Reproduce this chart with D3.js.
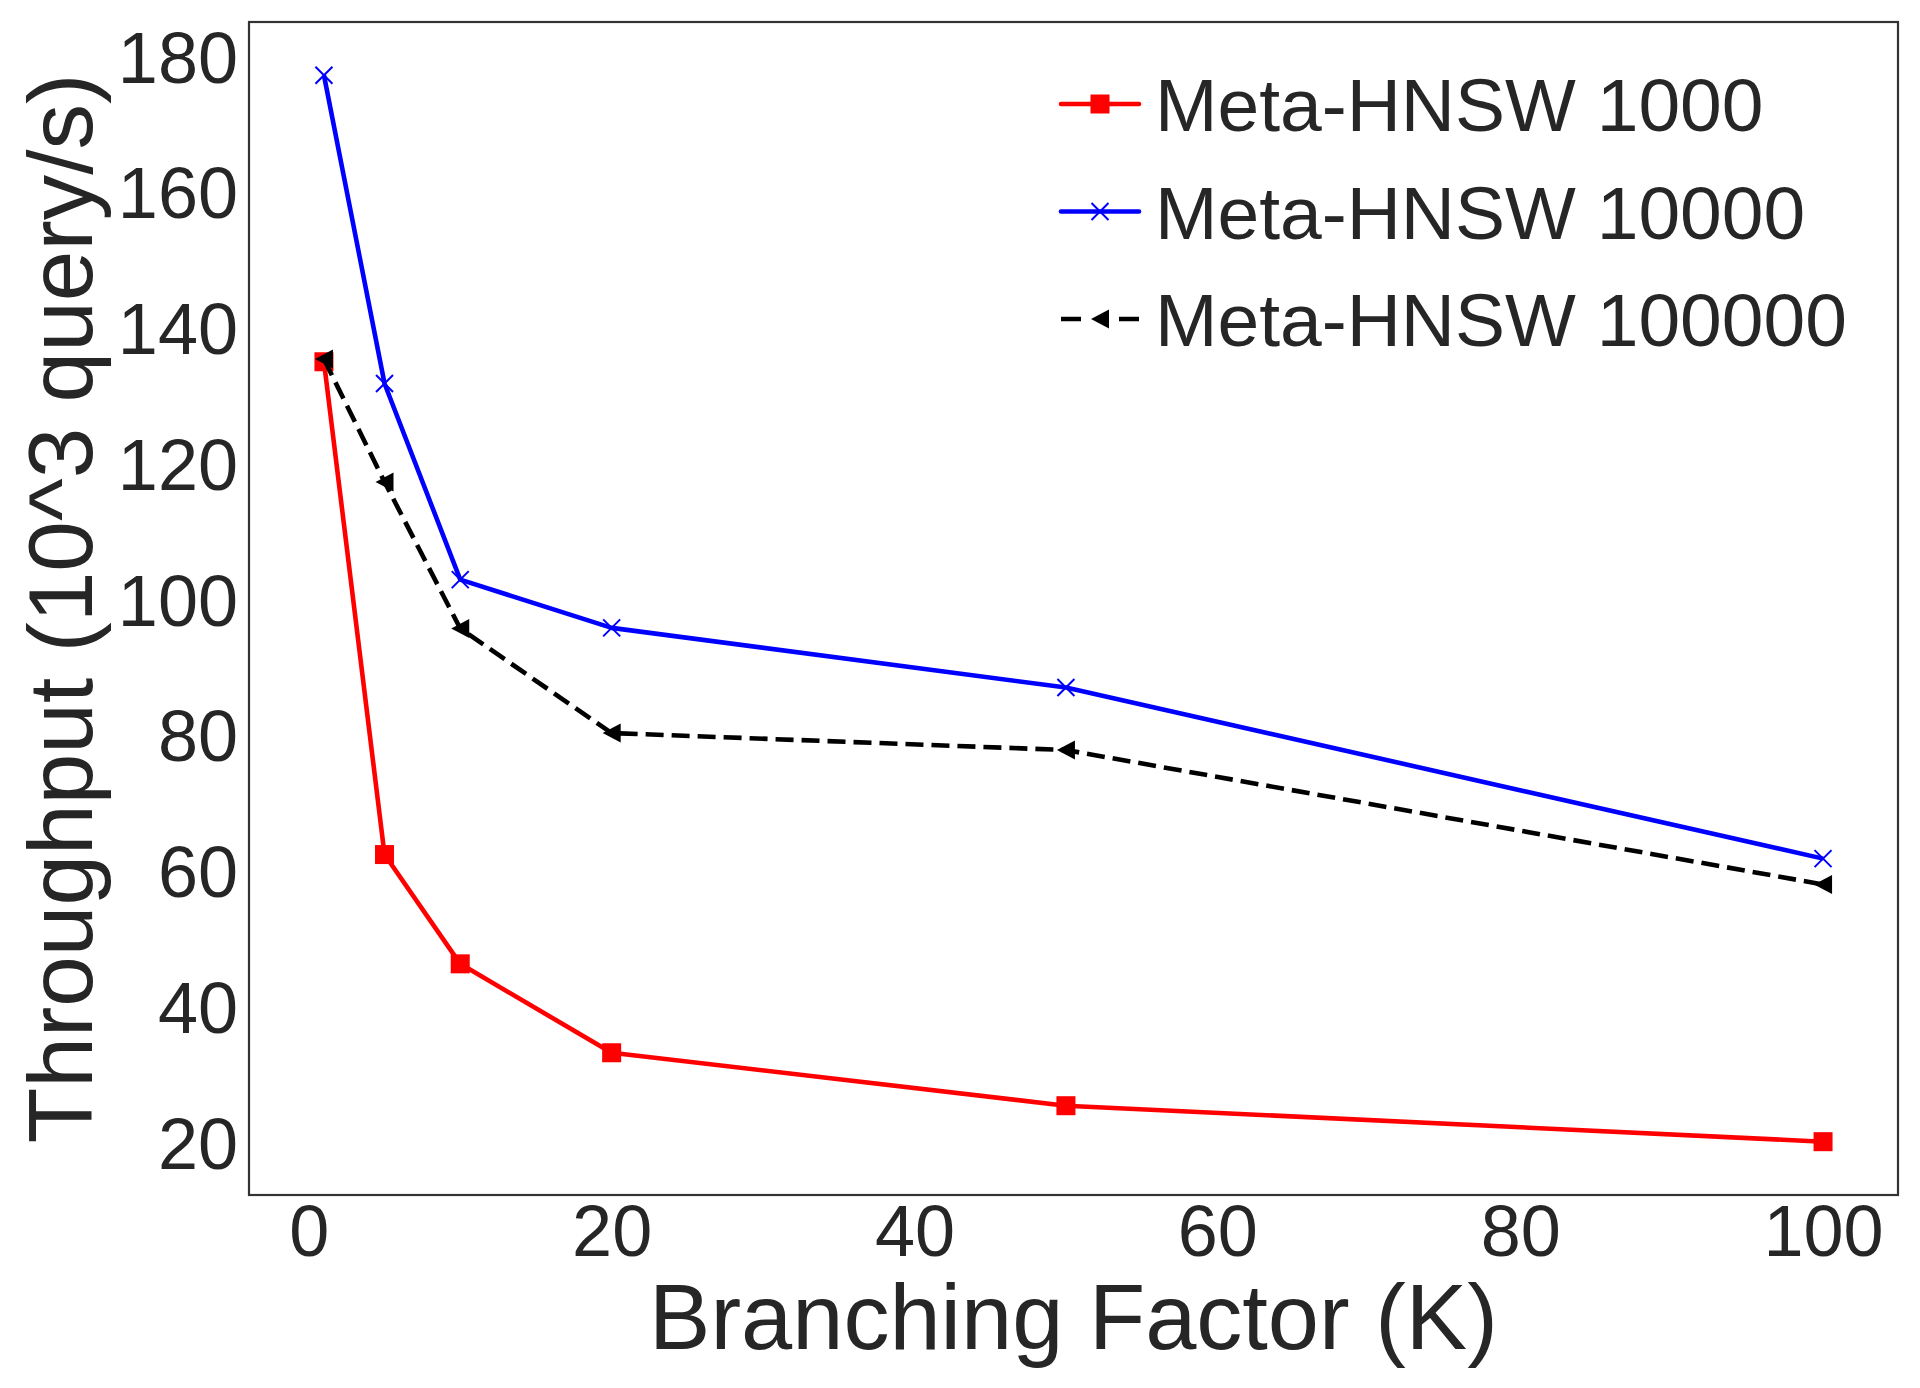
<!DOCTYPE html>
<html>
<head>
<meta charset="utf-8">
<script src="https://cdn.jsdelivr.net/npm/d3@7"></script>
<style>
  html, body { margin: 0; padding: 0; background: #fff; }
  svg { display: block; }
</style>
</head>
<body>
<svg id="chart" width="1920" height="1388"></svg>
<script>
const branching = [1, 5, 10, 20, 50, 100];
const hnsw1000 = [135.4, 62.8, 46.7, 33.6, 25.8, 20.5];
const hnsw10000 = [177.6, 132.2, 103.3, 96.2, 87.4, 62.2];
const hnsw100000 = [135.8, 117.7, 96.1, 80.7, 78.2, 58.4];
const seriesNames = ["Meta-HNSW 1000", "Meta-HNSW 10000", "Meta-HNSW 100000"];
const xTicks = [0, 20, 40, 60, 80, 100];
const yTicks = [20, 40, 60, 80, 100, 120, 140, 160, 180];
const xLabel = "Branching Factor (K)";
const yLabel = "Throughput (10^3 query/s)";

const series = [
  { name: seriesNames[0], values: hnsw1000, color: "#ff0000", marker: "square", dash: null },
  { name: seriesNames[1], values: hnsw10000, color: "#0000ff", marker: "x", dash: null },
  { name: seriesNames[2], values: hnsw100000, color: "#000000", marker: "triLeft", dash: "18,8" }
];

const svg = d3.select("#chart");
const L = 249, R = 1898, T = 22, B = 1195;
const FONT = "'Liberation Sans', Arial, sans-serif";
const TXT = "#262626";

function padDomain(lo, hi) { const p = (hi - lo) * 0.05; return [lo - p, hi + p]; }
const allY = [].concat(hnsw1000, hnsw10000, hnsw100000);
const x = d3.scaleLinear().domain(padDomain(d3.min(branching), d3.max(branching))).range([L, R]);
const y = d3.scaleLinear().domain(padDomain(d3.min(allY), d3.max(allY))).range([B, T]);

// Axes
const xAxis = svg.append("g").attr("transform", `translate(0,${B})`)
  .call(d3.axisBottom(x).tickValues(xTicks).tickSize(0).tickPadding(10).tickFormat(d3.format("d")));
const yAxis = svg.append("g").attr("transform", `translate(${L},0)`)
  .call(d3.axisLeft(y).tickValues(yTicks).tickSize(0).tickPadding(11).tickFormat(d3.format("d")));
[xAxis, yAxis].forEach(g => {
  g.select(".domain").remove();
  g.selectAll("text").attr("font-family", FONT).attr("font-size", 72).attr("fill", TXT);
});

// Frame
svg.append("rect").attr("x", L).attr("y", T).attr("width", R - L).attr("height", B - T)
  .attr("fill", "none").attr("stroke", "#333333").attr("stroke-width", 2.2);

// Lines
const line = d3.line().x((d, i) => x(branching[i])).y(d => y(d));
function drawMarker(g, type, cx, cy, color) {
  if (type === "square") {
    g.append("rect").attr("x", cx - 9.5).attr("y", cy - 9.5).attr("width", 19).attr("height", 19).attr("fill", color);
  } else if (type === "x") {
    const s = 8.5;
    g.append("path").attr("d", `M${cx - s},${cy - s}L${cx + s},${cy + s}M${cx - s},${cy + s}L${cx + s},${cy - s}`)
      .attr("stroke", color).attr("stroke-width", 2).attr("fill", "none");
  } else if (type === "triLeft") {
    const w = 9, h = 9.5;
    g.append("path").attr("d", `M${cx - w},${cy}L${cx + w},${cy - h}L${cx + w},${cy + h}Z`).attr("fill", color);
  }
}
series.forEach(s => {
  const g = svg.append("g");
  g.append("path").attr("d", line(s.values)).attr("fill", "none").attr("stroke", s.color)
    .attr("stroke-width", 4.6).attr("stroke-linejoin", "round")
    .attr("stroke-dasharray", s.dash);
  s.values.forEach((v, i) => drawMarker(g, s.marker, x(branching[i]), y(v), s.color));
});

// Legend
const legX1 = 1061, legX2 = 1139, legTextX = 1155, legY0 = 104, legDy = 107.5;
series.forEach((s, i) => {
  const g = svg.append("g");
  const cy = legY0 + i * legDy;
  g.append("line").attr("x1", legX1).attr("x2", legX2).attr("y1", cy).attr("y2", cy)
    .attr("stroke", s.color).attr("stroke-width", 4.6)
    .attr("stroke-linecap", s.dash ? "butt" : "round")
    .attr("stroke-dasharray", s.dash ? "20,38,20" : null);
  drawMarker(g, s.marker, (legX1 + legX2) / 2, cy, s.color);
  g.append("text").attr("x", legTextX).attr("y", cy).attr("dy", "0.36em")
    .attr("font-family", FONT).attr("font-size", 75).attr("fill", TXT).text(s.name);
});

// Axis labels
svg.append("text").attr("x", (L + R) / 2).attr("y", 1349).attr("text-anchor", "middle")
  .attr("font-family", FONT).attr("font-size", 92).attr("fill", TXT).text(xLabel);
svg.append("text").attr("transform", `translate(92,${(T + B) / 2}) rotate(-90)`).attr("text-anchor", "middle")
  .attr("font-family", FONT).attr("font-size", 91).attr("fill", TXT).text(yLabel);
</script>
</body>
</html>
